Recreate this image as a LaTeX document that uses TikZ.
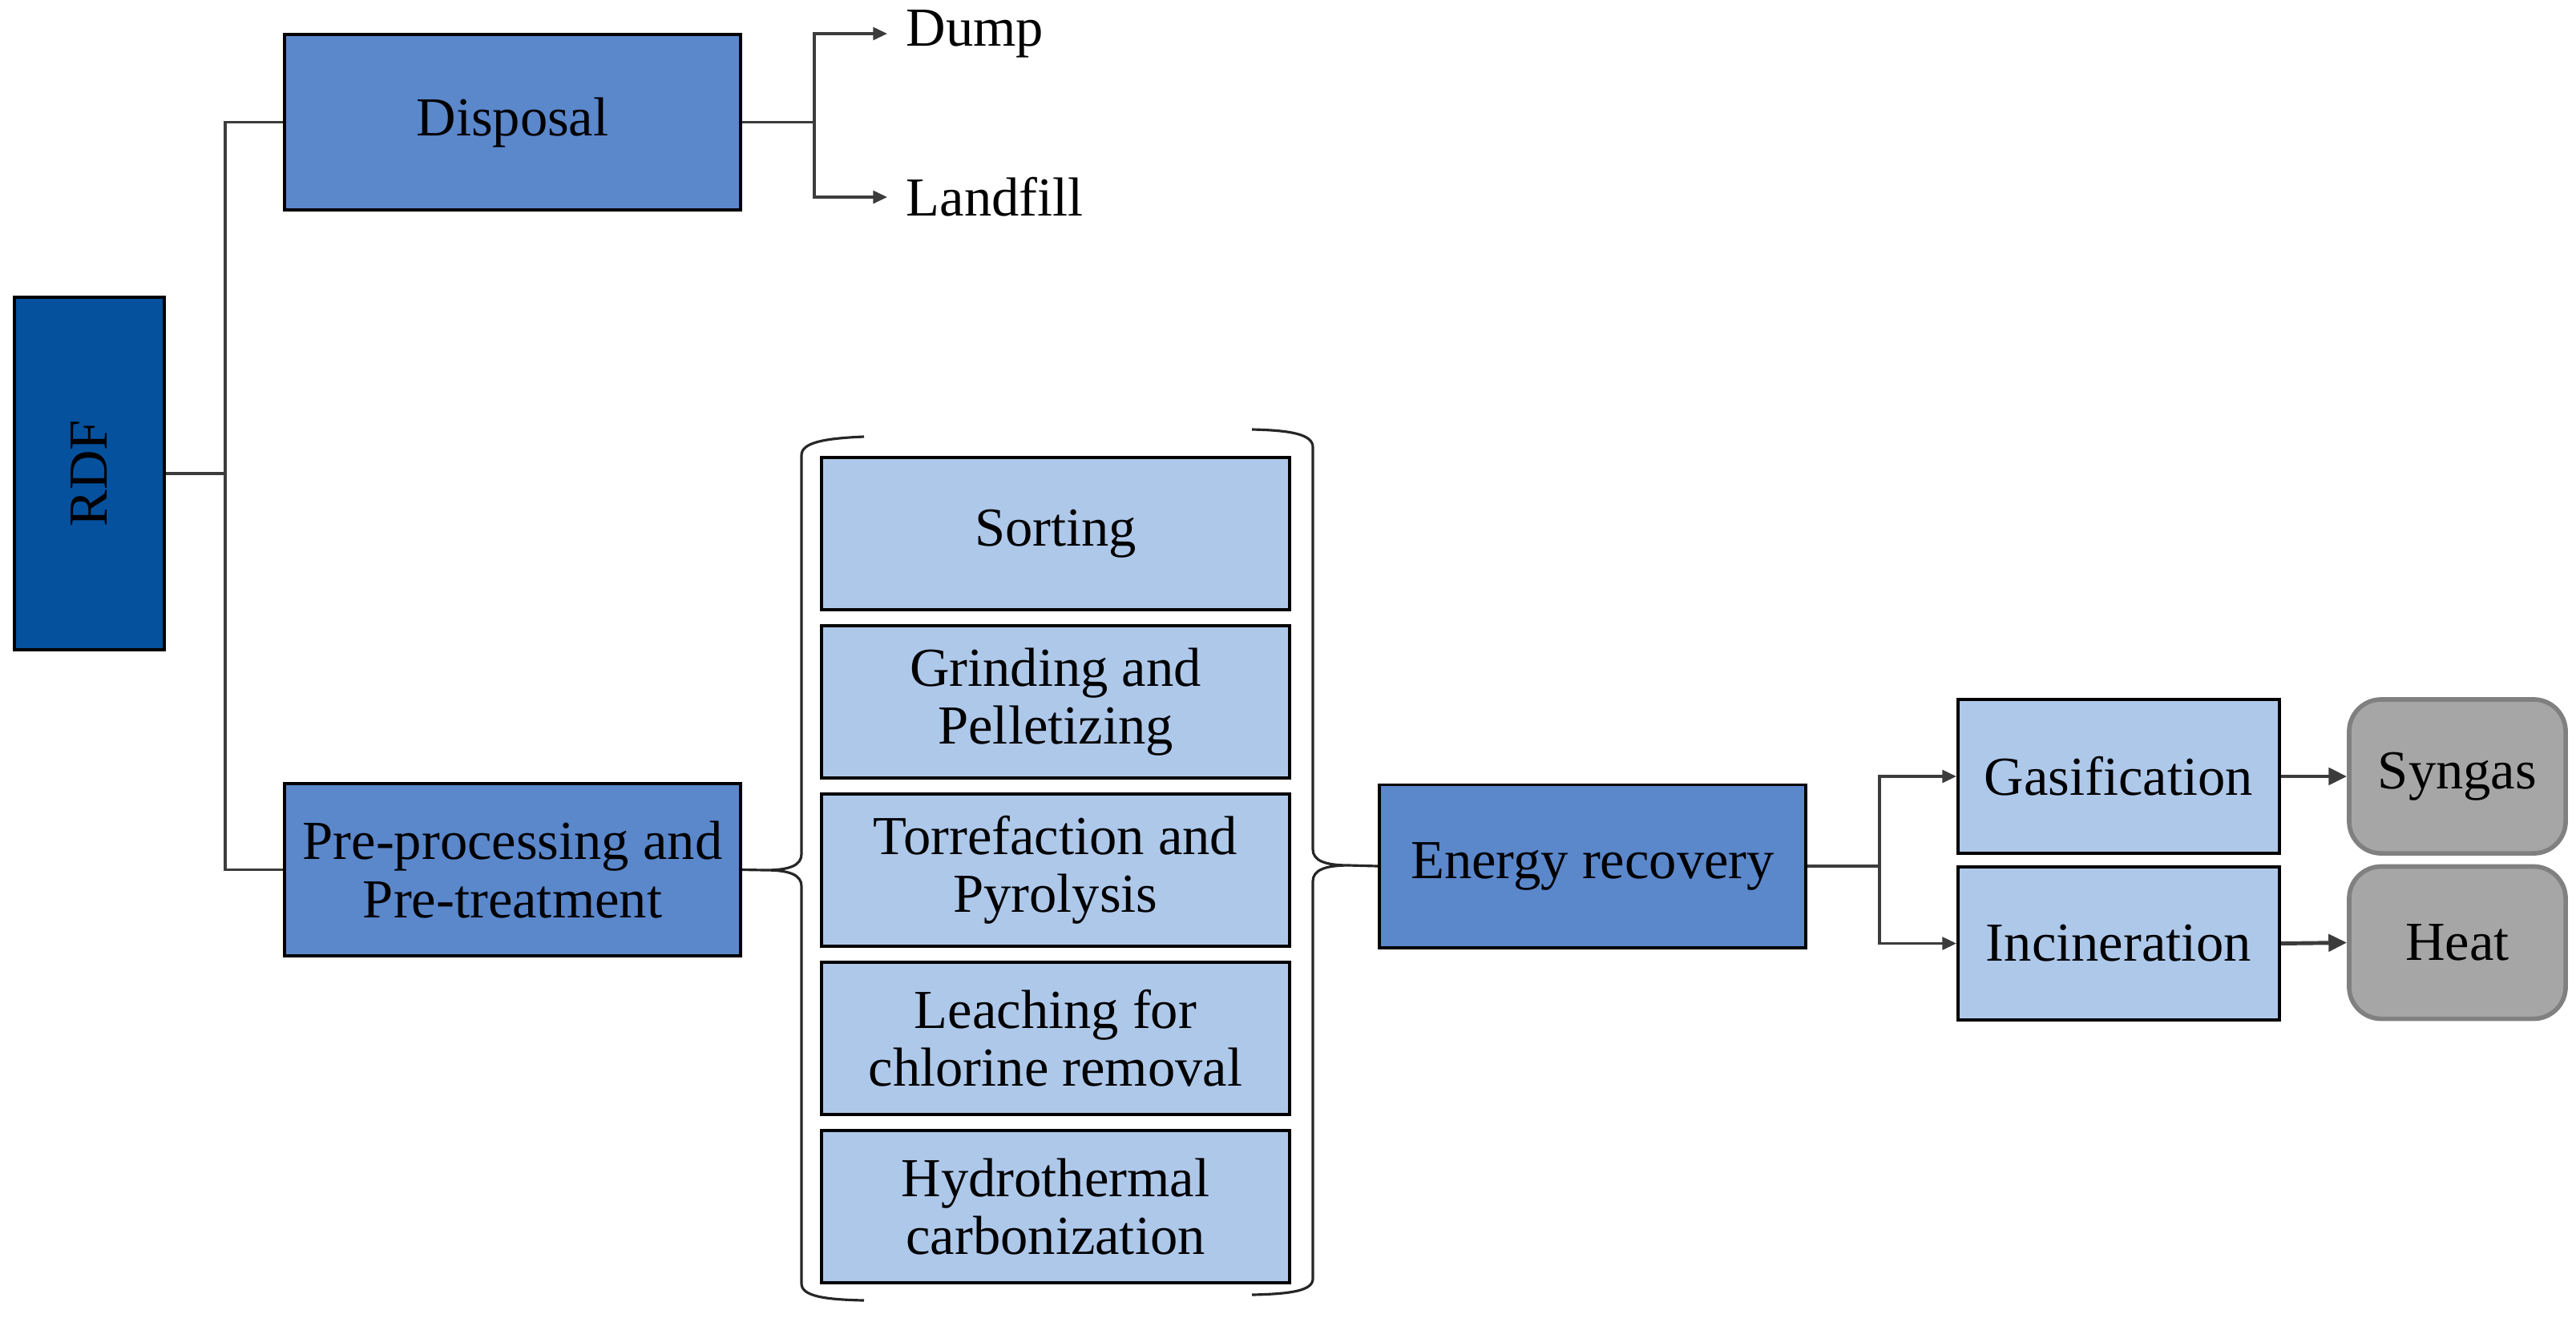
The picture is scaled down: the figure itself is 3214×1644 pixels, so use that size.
\documentclass[tikz,border=0pt]{standalone}
\usepackage{fontspec}
\setmainfont{Liberation Serif}
\usetikzlibrary{arrows.meta}
\definecolor{rdfblue}{RGB}{5,81,158}
\definecolor{midblue}{RGB}{91,135,203}
\definecolor{lightblue}{RGB}{174,200,234}
\definecolor{outgray}{RGB}{166,166,166}
\definecolor{outedge}{RGB}{128,128,128}
\definecolor{linegray}{RGB}{60,60,60}
\begin{document}
\begin{tikzpicture}[x=0.01cm,y=-0.01cm,
  every node/.style={font=\fontsize{19.5}{20.5}\selectfont, align=center},
  boxbase/.style={draw=black, line width=1.1pt, inner sep=0pt},
  darkbox/.style={boxbase, fill=rdfblue},
  midbox/.style={boxbase, fill=midblue},
  lightbox/.style={boxbase, fill=lightblue},
  outbox/.style={draw=outedge, line width=1.6pt, fill=outgray, rounded corners=0.4cm, inner sep=0pt},
  plain/.style={inner sep=0pt, anchor=west},
  conn/.style={draw=linegray, line width=0.9pt},
  arr/.style={conn, -{Triangle[length=5pt,width=4.5pt]}},
  thickarr/.style={draw=linegray, line width=1.4pt, -{Triangle[length=6.5pt,width=6pt]}},
  bracepath/.style={draw=black!85, line width=0.9pt}
]
\useasboundingbox (0,0) rectangle (3214,1644);

% main boxes
\node[darkbox, minimum width=1.87cm, minimum height=4.40cm] (rdf) at (111.5,591) {};
\node[rotate=90] (rdflabel) at (rdf.center) {RDF};
\node[midbox, minimum width=5.69cm, minimum height=2.19cm] (dis) at (639.5,152.5) {Disposal};
\node[midbox, minimum width=5.69cm, minimum height=2.15cm] (pre) at (639.5,1085.5) {Pre-processing and\\Pre-treatment};

% disposal outcomes
\node[plain] (dump) at (1130,42) {Dump};
\node[plain] (land) at (1130,246) {Landfill};

% process boxes
\node[lightbox, minimum width=5.84cm, minimum height=1.90cm] (p1) at (1317,666) {Sorting};
\node[lightbox, minimum width=5.84cm, minimum height=1.90cm] (p2) at (1317,876) {Grinding and\\Pelletizing};
\node[lightbox, minimum width=5.84cm, minimum height=1.90cm] (p3) at (1317,1086) {Torrefaction and\\Pyrolysis};
\node[lightbox, minimum width=5.84cm, minimum height=1.90cm] (p4) at (1317,1296) {Leaching for\\chlorine removal};
\node[lightbox, minimum width=5.84cm, minimum height=1.90cm] (p5) at (1317,1506) {Hydrothermal\\carbonization};

% energy recovery
\node[midbox, minimum width=5.32cm, minimum height=2.03cm] (en) at (1987,1081) {Energy recovery};
\node[lightbox, minimum width=4.01cm, minimum height=1.92cm] (gas) at (2643.5,969) {Gasification};
\node[lightbox, minimum width=4.01cm, minimum height=1.91cm] (inc) at (2643.5,1177.5) {Incineration};
\node[outbox, minimum width=2.70cm, minimum height=1.92cm] (syn) at (3066,969) {Syngas};
\node[outbox, minimum width=2.70cm, minimum height=1.90cm] (heat) at (3066,1176.5) {Heat};

% RDF connectors
\coordinate (tr) at (281,591);
\draw[conn] (rdf.east) -- (tr);
\draw[conn] (dis.west) -| (tr) |- (pre.west);

% disposal branch
\coordinate (dj) at (1016,152.5);
\draw[conn] (dis.east) -- (dj);
\draw[arr] (dj) |- ([xshift=-0.23cm]dump.west);
\draw[arr] (dj) |- ([xshift=-0.23cm]land.west);

% left brace
\coordinate (lbt) at (955,1086);
\draw[bracepath] (1078,545) .. controls (1030,547) and (1000,552) .. (1000,568)
  -- (1000,1066) .. controls (1000,1080) and (985,1086) .. (lbt)
  .. controls (985,1086) and (1000,1092) .. (1000,1106)
  -- (1000,1602) .. controls (1000,1618) and (1030,1622) .. (1078,1623);
\draw[bracepath] (pre.east) -- (lbt);

% right brace
\coordinate (rbt) at (1683,1080);
\draw[bracepath] (1562,536) .. controls (1610,537) and (1638,542) .. (1638,558)
  -- (1638,1060) .. controls (1638,1074) and (1653,1080) .. (rbt)
  .. controls (1653,1080) and (1638,1086) .. (1638,1100)
  -- (1638,1596) .. controls (1638,1611) and (1610,1615) .. (1562,1616);
\draw[bracepath] (rbt) -- (en.west);

% energy branch
\coordinate (ej) at (2345,1081);
\draw[conn] (en.east) -- (ej);
\draw[arr] (ej) |- (gas.west);
\draw[arr] (ej) |- (inc.west);
\draw[thickarr] (gas.east) -- (syn.west);
\draw[thickarr] (inc.east) -- (heat.west);
\end{tikzpicture}
\end{document}
